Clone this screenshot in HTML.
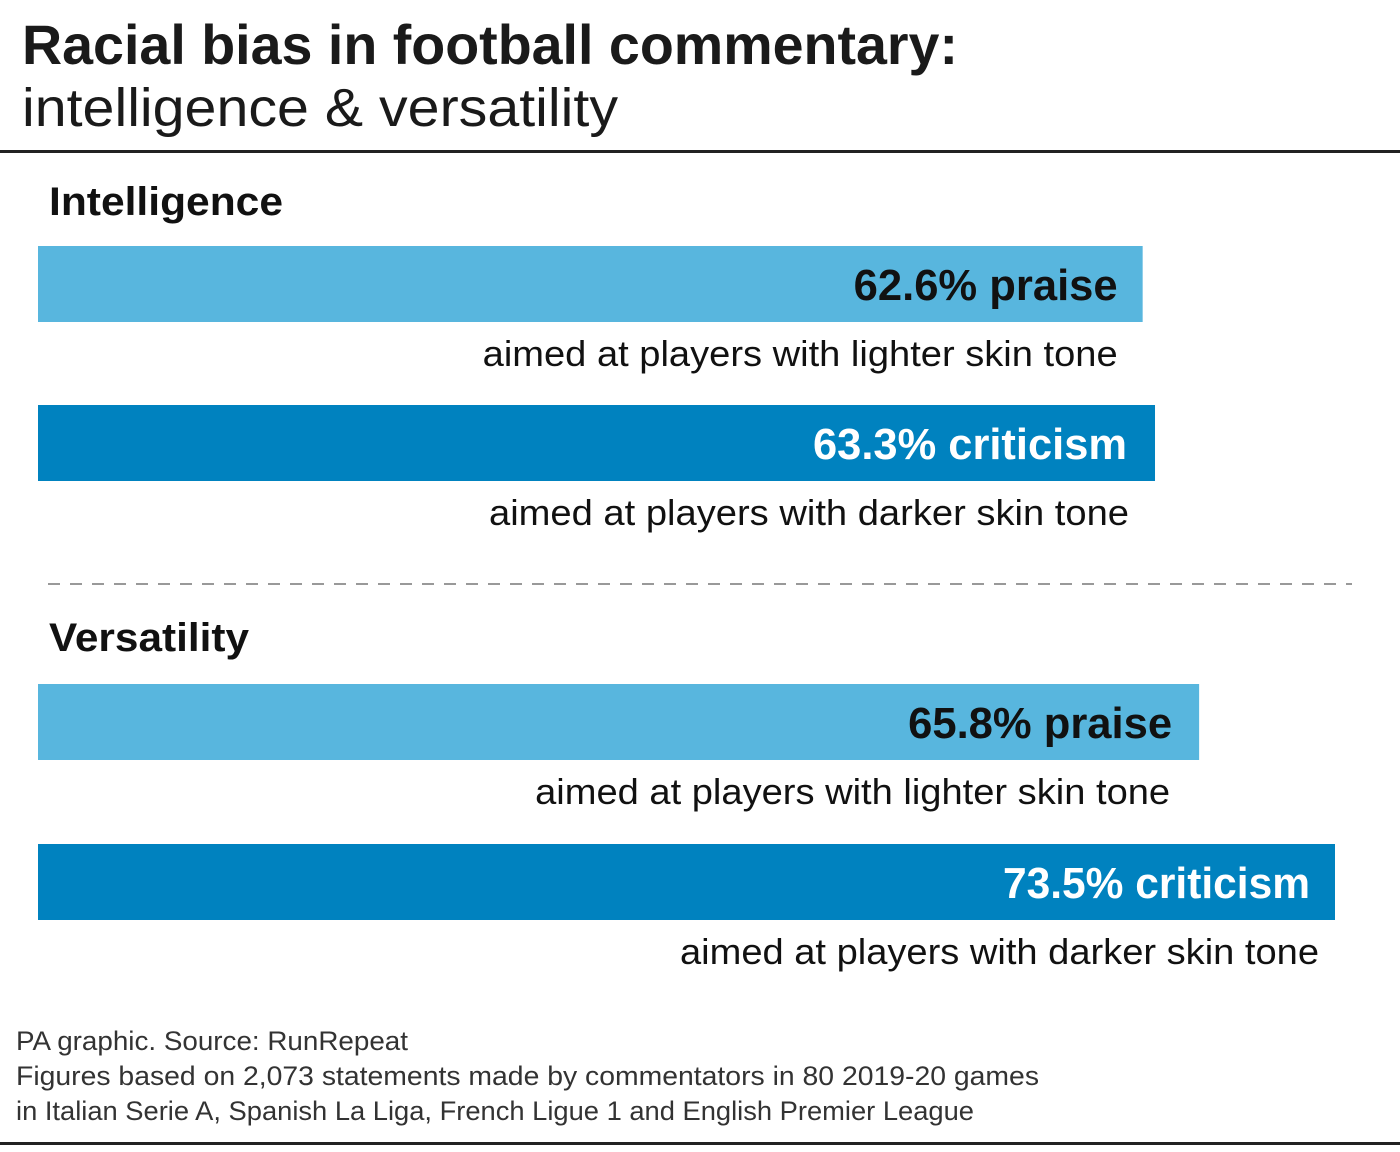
<!DOCTYPE html>
<html><head><meta charset="utf-8"><style>
html,body{margin:0;padding:0;background:#fff;}
svg{display:block;font-family:"Liberation Sans",Arial,sans-serif;}
</style></head><body>
<svg id="chart" width="1400" height="1152" viewBox="0 0 1400 1152" xmlns="http://www.w3.org/2000/svg">
<text x="22" y="64" font-size="56" font-weight="bold" fill="#1a1a1a" textLength="936" lengthAdjust="spacingAndGlyphs">Racial bias in football commentary:</text>
<text x="22" y="126" font-size="54" fill="#1a1a1a" textLength="596" lengthAdjust="spacingAndGlyphs">intelligence &amp; versatility</text>
<rect x="0" y="150" width="1400" height="3" fill="#222"/>
<text x="49" y="215" font-size="40" font-weight="bold" fill="#111" textLength="234" lengthAdjust="spacingAndGlyphs">Intelligence</text>
<line x1="48" y1="584" x2="1352" y2="584" stroke="#999" stroke-width="2" stroke-dasharray="12,10"/>
<text x="49" y="651" font-size="40" font-weight="bold" fill="#111" textLength="200" lengthAdjust="spacingAndGlyphs">Versatility</text>
<g id="bars"></g>
<text x="16" y="1050" font-size="27" fill="#333" textLength="392" lengthAdjust="spacingAndGlyphs">PA graphic. Source: RunRepeat</text>
<text x="16" y="1085" font-size="27" fill="#333" textLength="1023" lengthAdjust="spacingAndGlyphs">Figures based on 2,073 statements made by commentators in 80 2019-20 games</text>
<text x="16" y="1120" font-size="27" fill="#333" textLength="958" lengthAdjust="spacingAndGlyphs">in Italian Serie A, Spanish La Liga, French Ligue 1 and English Premier League</text>
<rect x="0" y="1142" width="1400" height="3" fill="#222"/>
</svg>
<script>
const values = [62.6, 63.3, 65.8, 73.5];
const kinds = ["praise", "criticism", "praise", "criticism"];
const subLabels = ["aimed at players with lighter skin tone","aimed at players with darker skin tone","aimed at players with lighter skin tone","aimed at players with darker skin tone"];
const NS = "http://www.w3.org/2000/svg";
const x0 = 38, pxPer = (1335 - 38) / 73.5;
const xs = v => x0 + v * pxPer;
const tops = [246, 405, 684, 844];
const valPad = [25, 28, 27, 25];
const subPad = [25, 26, 29, 16];
const valW = [264, 314, 264, 307];
const subW = [635, 640, 635, 639];
const g = document.getElementById("bars");
values.forEach((v, i) => {
  const dark = kinds[i] === "criticism";
  const end = xs(v);
  const r = document.createElementNS(NS, "rect");
  r.setAttribute("x", x0); r.setAttribute("y", tops[i]);
  r.setAttribute("width", end - x0); r.setAttribute("height", 76);
  r.setAttribute("fill", dark ? "#0082bf" : "#58b6de");
  
  
  g.appendChild(r);
  const t = document.createElementNS(NS, "text");
  t.setAttribute("x", end - valPad[i]); t.setAttribute("y", tops[i] + 54);
  t.setAttribute("text-anchor", "end"); t.setAttribute("font-size", "44");
  t.setAttribute("font-weight", "bold"); t.setAttribute("fill", dark ? "#fff" : "#111");
  t.setAttribute("textLength", valW[i]); t.setAttribute("lengthAdjust", "spacingAndGlyphs");
  t.textContent = v.toFixed(1) + "% " + kinds[i];
  
  
  g.appendChild(t);
  const s = document.createElementNS(NS, "text");
  s.setAttribute("x", end - subPad[i]); s.setAttribute("y", tops[i] + 120);
  s.setAttribute("text-anchor", "end"); s.setAttribute("font-size", "36");
  s.setAttribute("fill", "#111");
  s.setAttribute("textLength", subW[i]); s.setAttribute("lengthAdjust", "spacingAndGlyphs");
  s.textContent = subLabels[i];
  
  
  g.appendChild(s);
});
</script>
</body></html>
